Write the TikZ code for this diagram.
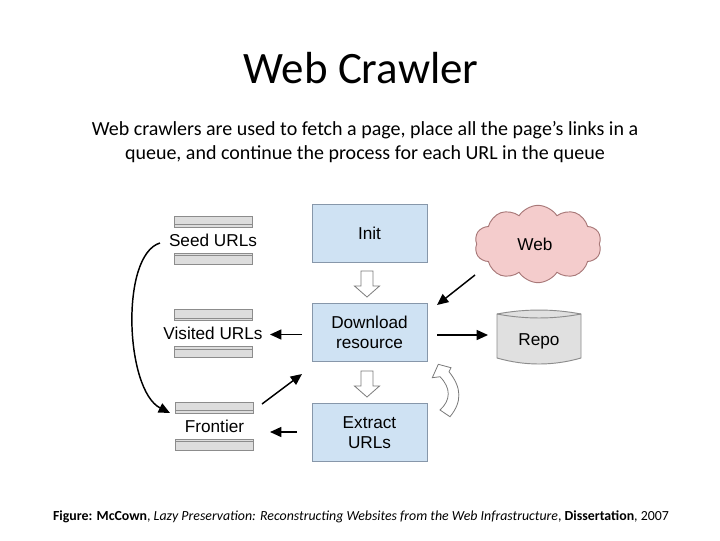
\documentclass[tikz,border=0pt]{standalone}
\usepackage{fontspec}
\setmainfont{Carlito}
\newfontfamily\arialf{Liberation Sans}
\usetikzlibrary{shapes.symbols,arrows.meta}
\definecolor{boxblue}{HTML}{CFE2F3}
\definecolor{boxedge}{HTML}{8797AA}
\definecolor{cloudpink}{HTML}{F4CCCC}
\definecolor{cloudedge}{HTML}{A87878}
\definecolor{bandgray}{HTML}{DDDDDD}
\definecolor{bandedge}{HTML}{8C8C8C}
\definecolor{repogray}{HTML}{E0E0E0}
\definecolor{hollowedge}{HTML}{7A7A7A}
\begin{document}
\begin{tikzpicture}[x=0.75pt,y=-0.75pt,
  procbox/.style={draw=boxedge, fill=boxblue, line width=0.7pt, minimum width=86.25pt, minimum height=43.5pt, inner sep=0pt, align=center, font=\arialf\fontsize{12.9}{15.2}\selectfont},
  diaglabel/.style={inner sep=2pt, align=center, font=\arialf\fontsize{12.9}{15}\selectfont},
  band/.style={draw=bandedge, fill=bandgray, line width=0.6pt},
  arr/.style={line width=1.1pt, -{Triangle[length=8.5pt,width=7.5pt]}},
  hollow/.style={draw=hollowedge, fill=white, line width=0.6pt, line join=miter}]
\useasboundingbox (0,0) rectangle (720,540);
\fill[white] (0,0) rectangle (720,540);

% texts
\node (title) at (361,68) {\fontsize{33.7}{40}\selectfont Web Crawler};
\node[align=center, font=\fontsize{15}{18}\selectfont] (sub) at (365,142)
  {Web crawlers are used to fetch a page, place all the page’s links in a\\queue, and continue the process for each URL in the queue};
\node[font=\fontsize{10.4}{12}\selectfont] (cap) at (361,517)
  {\textbf{Figure: McCown}, \textit{Lazy Preservation: Reconstructing Websites from the Web Infrastructure}, \textbf{Dissertation}, 2007};

% process boxes
\node[procbox] (init) at (369.5,233) {Init};
\node[procbox] (download) at (369.5,332.5) {Download\\resource};
\node[procbox] (extract) at (369.5,432.5) {Extract\\URLs};

% stacks
\node[diaglabel] (seed) at (213,240) {Seed URLs};
\node[diaglabel] (visited) at (213,333.5) {Visited URLs};
\node[diaglabel] (frontier) at (214.5,426) {Frontier};
\foreach \n in {seed,visited,frontier}{
  \draw[band] ([shift={(-39,-24)}]\n.center) rectangle ([shift={(39,-13)}]\n.center);
  \draw[bandedge, line width=0.6pt] ([shift={(-39,-15.5)}]\n.center) -- ([shift={(39,-15.5)}]\n.center);
  \draw[band] ([shift={(-39,13)}]\n.center) rectangle ([shift={(39,24)}]\n.center);
  \draw[bandedge, line width=0.6pt] ([shift={(-39,15.5)}]\n.center) -- ([shift={(39,15.5)}]\n.center);
}

% web cloud
\node[cloud, cloud puffs=10, cloud puff arc=115, cloud ignores aspect, draw=cloudedge, fill=cloudpink, line width=0.7pt,
  minimum width=95pt, minimum height=58pt, inner sep=0pt] (web) at (538,244) {};
\node[diaglabel] (weblabel) at (535,244) {Web};

% repo
\draw[draw=bandedge, fill=repogray, line width=0.7pt]
  (497,314) .. controls (525,308.7) and (553,308.7) .. (581,314) -- (581,358)
  .. controls (553,366) and (525,366) .. (497,358) -- cycle;
\draw[bandedge, line width=0.7pt] (497,314) .. controls (525,319.3) and (553,319.3) .. (581,314);
\node[diaglabel, minimum width=60pt] (repo) at (539,341) {Repo};

% hollow arrows
\draw[hollow] (361,271) -- (373,271) -- (373,286) -- (379.5,286) -- (367,297) -- (354.5,286) -- (361,286) -- cycle;
\draw[hollow] (361,371) -- (373,371) -- (373,386) -- (379.5,386) -- (367,397) -- (354.5,386) -- (361,386) -- cycle;
\draw[hollow] (438.3,364.3) -- (451,367.7) -- (449,371.7) .. controls (462,388) and (462,402) .. (450,416.7)
  -- (440,410) .. controls (451,400) and (451,388) .. (440,376.7) -- (432.3,377.7) -- cycle;

% connectors
\draw[arr] ([shift={(-53,3)}]seed.center) .. controls (120,255) and (125,390) .. ([shift={(-44.5,-13)}]frontier.center);
\draw[arr] ([shift={(-67.5,2)}]download.center) -- ([shift={(57,1)}]visited.center);
\draw[arr] ([shift={(-72.5,-0.5)}]extract.center) -- ([shift={(55.5,6)}]frontier.center);
\draw[arr] ([shift={(47.5,-22)}]frontier.center) -- ([shift={(-67.5,41.5)}]download.center);
\draw[arr] ([shift={(-63,31)}]web.center) -- ([shift={(67.5,-27.5)}]download.center);
\draw[arr] ([shift={(67.5,2.5)}]download.center) -- ([shift={(-51,-6)}]repo.center);
\end{tikzpicture}
\end{document}
